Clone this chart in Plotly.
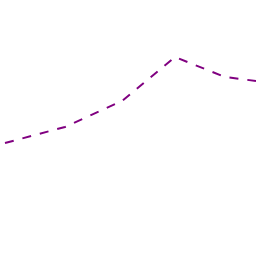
import plotly.graph_objects as go

x_vals = [5, 65, 122, 175, 225, 256]
y_vals = [143, 127, 101, 57, 77, 81]

fig = go.Figure(go.Scatter(x=x_vals, y=y_vals, mode="lines",
                           line=dict(color="#800080", width=2, dash="dash")))
fig.update_layout(width=256, height=256, margin=dict(l=0, r=0, t=0, b=0),
                  paper_bgcolor="white", plot_bgcolor="white", showlegend=False)
fig.update_xaxes(visible=False, range=[0, 256])
fig.update_yaxes(visible=False, range=[256, 0])
fig.write_html("out.html")
